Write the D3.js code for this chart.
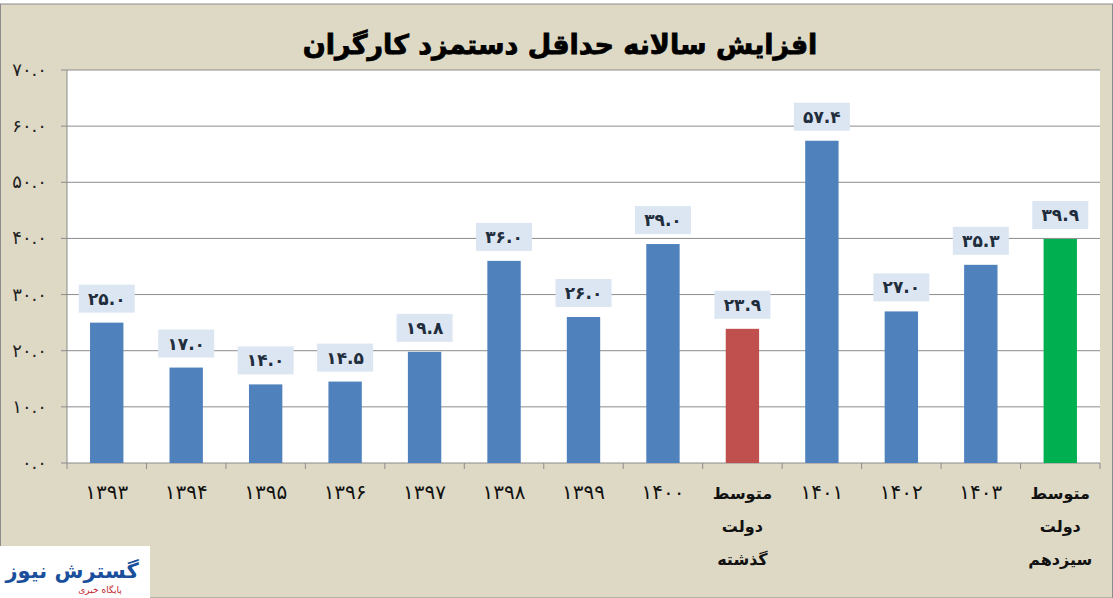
<!DOCTYPE html><html><head><meta charset="utf-8"><script src="https://cdn.jsdelivr.net/npm/d3@7"></script>
<style>body{margin:0;background:#fff}</style></head><body><svg id="c" width="1113" height="598"></svg><script>
const categories=["۱۳۹۳","۱۳۹۴","۱۳۹۵","۱۳۹۶","۱۳۹۷","۱۳۹۸","۱۳۹۹","۱۴۰۰","متوسط|دولت|گذشته","۱۴۰۱","۱۴۰۲","۱۴۰۳","متوسط|دولت|سیزدهم"];
const values=[25.0,17.0,14.0,14.5,19.8,36.0,26.0,39.0,23.9,57.4,27.0,35.3,39.9];
const colors=["#4f81bd","#4f81bd","#4f81bd","#4f81bd","#4f81bd","#4f81bd","#4f81bd","#4f81bd","#c0504d","#4f81bd","#4f81bd","#4f81bd","#00b050"];
const yTicks=[0,10,20,30,40,50,60,70];
const title="افزایش سالانه حداقل دستمزد کارگران";
const fa=s=>s.replace(/\d/g,d=>"۰۱۲۳۴۵۶۷۸۹"[d]);
const fmt=v=>fa(v.toFixed(1));
const svg=d3.select("#c");
svg.append("rect").attr("x",0.5).attr("y",4).attr("width",1112).attr("height",594).attr("fill","#ddd9c4").attr("stroke","#8c8c8c");
const L=67,R=1100,T=70,B=463;
const x=d3.scaleBand().domain(d3.range(categories.length)).range([L,R]).paddingInner(0.58).paddingOuter(0.29);
const y=d3.scaleLinear().domain([0,70]).range([B,T]);
svg.append("rect").attr("x",L).attr("y",T).attr("width",R-L).attr("height",B-T).attr("fill","#fff");
svg.append("text").attr("x",560).attr("y",54).attr("text-anchor","middle").attr("font-family","DejaVu Sans").attr("font-weight","bold").attr("font-size",27).attr("stroke","#000").attr("stroke-width",0.8).text(title);
svg.selectAll(".g").data(yTicks).join("line").attr("x1",L-6).attr("x2",R).attr("y1",d=>y(d)).attr("y2",d=>y(d)).attr("stroke","#8c8c8c");
svg.append("line").attr("x1",L).attr("x2",L).attr("y1",T).attr("y2",B).attr("stroke","#8c8c8c");
svg.selectAll(".yl").data(yTicks).join("text").attr("x",47).attr("y",d=>y(d)+6).attr("text-anchor","end").attr("font-family","DejaVu Sans").attr("font-size",18).attr("fill","#222").text(d=>fmt(d));
const step=(R-L)/categories.length;
svg.selectAll(".xt").data(d3.range(categories.length+1)).join("line").attr("x1",i=>L+i*step).attr("x2",i=>L+i*step).attr("y1",B).attr("y2",B+6).attr("stroke","#8c8c8c");
svg.selectAll(".bar").data(values).join("rect").attr("x",(d,i)=>x(i)).attr("width",x.bandwidth()).attr("y",d=>y(d)).attr("height",d=>B-y(d)).attr("fill",(d,i)=>colors[i]);
const lab=svg.selectAll(".lb").data(values).join("g").attr("transform",(d,i)=>`translate(${x(i)+x.bandwidth()/2},${y(d)-24})`);
lab.append("rect").attr("x",-28).attr("y",-14).attr("width",56).attr("height",28).attr("fill","#dce6f2");
lab.append("text").attr("text-anchor","middle").attr("y",6).attr("font-family","DejaVu Sans").attr("font-weight","bold").attr("font-size",17).attr("fill","#1f2d3d").text(d=>fmt(d));
categories.forEach((c,i)=>{const parts=c.split("|");const cx=x(i)+x.bandwidth()/2;
 parts.forEach((p,j)=>svg.append("text").attr("x",cx).attr("y",parts.length>1?499+j*33:499).attr("text-anchor","middle").attr("font-family","DejaVu Sans").attr("font-weight",parts.length>1?"bold":"normal").attr("font-size",parts.length>1?16:20).attr("fill","#111").text(p));});
const lg=svg.append("g");
lg.append("rect").attr("x",0).attr("y",546).attr("width",150).attr("height",52).attr("fill","#fff");
lg.append("text").attr("x",72).attr("y",578).attr("text-anchor","middle").attr("font-family","DejaVu Sans").attr("font-weight","bold").attr("font-size",21).attr("fill","#1a4f9c").text("گسترش نیوز");
lg.append("text").attr("x",100).attr("y",593).attr("text-anchor","middle").attr("font-family","DejaVu Sans").attr("font-size",9).attr("fill","#c0202a").text("پایگاه خبری");
</script></body></html>
